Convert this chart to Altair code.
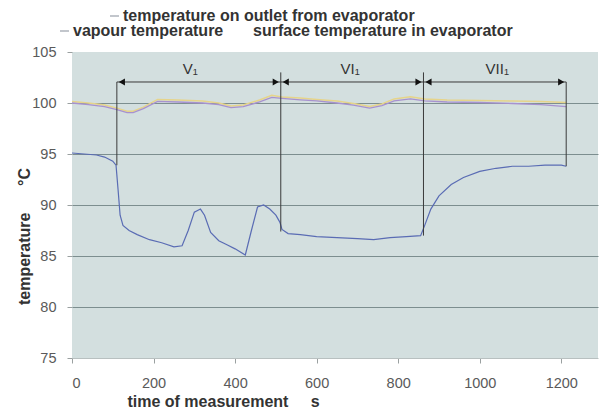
import altair as alt
import pandas as pd

# ---- data ----
outlet_t = [0, 30, 60, 80, 100, 108, 113, 118, 125, 140, 160, 190, 220, 250, 270, 285, 300, 315,
            325, 340, 360, 380, 400, 425, 440, 455, 470, 485, 500, 510, 515, 530, 560, 600, 650,
            700, 740, 780, 820, 855, 865, 880, 900, 930, 960, 1000, 1040, 1080, 1120, 1160, 1200, 1212]
outlet_v = [95.1, 95.0, 94.9, 94.7, 94.3, 93.9, 91.5, 89.0, 88.0, 87.5, 87.1, 86.6, 86.3, 85.9, 86.0,
            87.5, 89.3, 89.6, 89.0, 87.3, 86.5, 86.1, 85.7, 85.1, 87.5, 89.8, 90.0, 89.6, 89.0, 88.3,
            87.6, 87.2, 87.1, 86.9, 86.8, 86.7, 86.6, 86.8, 86.9, 87.0, 88.0, 89.6, 90.9, 92.0, 92.7,
            93.3, 93.6, 93.8, 93.8, 93.9, 93.9, 93.8]

upper_t = [0, 40, 80, 110, 135, 150, 175, 210, 260, 320, 360, 390, 420, 460, 490, 515, 560, 600,
           650, 690, 730, 760, 790, 830, 865, 920, 1000, 1080, 1150, 1212]
vapour_v = [100.15, 100.0, 99.8, 99.5, 99.2, 99.2, 99.6, 100.35, 100.3, 100.2, 100.0, 99.7, 99.8,
            100.3, 100.75, 100.6, 100.5, 100.35, 100.2, 99.95, 99.65, 99.9, 100.4, 100.6, 100.4,
            100.3, 100.25, 100.2, 100.15, 100.05]
surface_v = [100.0, 99.85, 99.65, 99.35, 99.05, 99.05, 99.45, 100.15, 100.1, 100.0, 99.85, 99.55,
             99.65, 100.1, 100.55, 100.45, 100.3, 100.2, 100.0, 99.8, 99.5, 99.75, 100.2, 100.4,
             100.2, 100.1, 100.05, 99.95, 99.85, 99.65]

boundary_t = [110, 512, 862, 1212]
boundary_top = [102.06, 103.0, 103.0, 102.06]
boundary_bottom = [93.9, 87.4, 87.0, 93.8]

section_labels = ["V₁", "VI₁", "VII₁"]
section_mid = [290, 682, 1043]
section_start = [110, 512, 862]
section_end = [512, 862, 1212]
arrow_level = 102.06
label_level = 103.3

x_ticks = [0, 200, 400, 600, 800, 1000, 1200]
y_ticks = [75, 80, 85, 90, 95, 100, 105]
x_domain = [0, 1290]
y_domain = [75, 105]

NB = "\u00a0"
legend_outlet = "temperature on outlet from evaporator"
legend_vapour = "vapour temperature"
legend_surface = "surface temperature in evaporator"
x_title = "time of measurement" + NB * 5 + "s"
y_title = "temperature" + NB * 6 + "°C"

# ---- tables ----
outlet_df = pd.DataFrame({"t": outlet_t, "v": outlet_v})
vapour_df = pd.DataFrame({"t": upper_t, "v": vapour_v})
surface_df = pd.DataFrame({"t": upper_t, "v": surface_v})
bound_df = pd.DataFrame({"t": boundary_t, "v": boundary_top, "v2": boundary_bottom})
sect_df = pd.DataFrame({"label": section_labels, "t": section_mid, "t0": section_start,
                        "t1": section_end, "lv": [label_level] * 3, "av": [arrow_level] * 3})
one = pd.DataFrame({"a": [0]})

xs = alt.Scale(domain=x_domain, nice=False, zero=False)
ys = alt.Scale(domain=y_domain, nice=False, zero=False)

xaxis = alt.Axis(values=x_ticks, format="d", grid=False, tickSize=5, tickColor="#9aa0a0",
                 domainColor="#b8c0c0", labelColor="#5a5a5a", labelFontSize=14.5,
                 labelPadding=13, title=x_title, titleFontSize=16, titleFontWeight="bold",
                 titleColor="#333333", titleX=151, titleY=43, titleBaseline="middle",
                 titleAlign="center")
yaxis = alt.Axis(values=y_ticks, format="d", grid=True,
                 gridColor={"condition": {"test": "datum.value <= 75 || datum.value >= 105",
                                          "value": "transparent"}, "value": "#7c8e8f"},
                 gridWidth=1, domain=False, tickSize=5, tickColor="#9aa0a0",
                 labelColor="#5a5a5a", labelFontSize=14.5, labelPadding=11,
                 title=y_title, titleFontSize=16, titleFontWeight="bold", titleColor="#333333",
                 titleX=-48, titleY=184, titleAngle=270, titleBaseline="middle",
                 titleAlign="center")


def X(f):
    return alt.X(f, type="quantitative", scale=xs, axis=xaxis)


def Y(f):
    return alt.Y(f, type="quantitative", scale=ys, axis=yaxis)


blue = "#5a6cb4"
yellow = "#e6d48a"
purple = "#a792cf"

surface_line = alt.Chart(surface_df).mark_line(color=purple, strokeWidth=1.3).encode(x=X("t"), y=Y("v"))
vapour_line = alt.Chart(vapour_df).mark_line(color=yellow, strokeWidth=1.5).encode(x=X("t"), y=Y("v"))
outlet_line = alt.Chart(outlet_df).mark_line(color=blue, strokeWidth=1.2).encode(x=X("t"), y=Y("v"))

bounds = alt.Chart(bound_df).mark_rule(color="#3a3a3a", strokeWidth=1).encode(
    x=X("t"), y=Y("v"), y2="v2")
arrow = alt.Chart(sect_df).mark_rule(color="#3a3a3a", strokeWidth=1).encode(
    x=X("t0"), x2="t1", y=Y("av"))
head_l = alt.Chart(sect_df).mark_point(shape="triangle-left", filled=True, color="#111111",
                                       size=50, opacity=1, xOffset=5).encode(x=X("t0"), y=Y("av"))
head_r = alt.Chart(sect_df).mark_point(shape="triangle-right", filled=True, color="#111111",
                                       size=50, opacity=1, xOffset=-5).encode(x=X("t1"), y=Y("av"))
labels = alt.Chart(sect_df).mark_text(fontSize=15, color="#333333", baseline="middle").encode(
    x=X("t"), y=Y("lv"), text="label")


def legend_entry(text, tx, ty, color, dash):
    txt = alt.Chart(one).mark_text(align="left", baseline="middle", fontSize=16,
                                   fontWeight="bold", color="#333333").encode(
        x=alt.value(tx), y=alt.value(ty), text=alt.value(text))
    layers = [txt]
    if dash:
        layers.append(alt.Chart(one).mark_rule(color=color, strokeWidth=1.2).encode(
            x=alt.value(tx - 13), x2=alt.value(tx - 4), y=alt.value(ty)))
    return layers


leg = []
leg += legend_entry(legend_outlet, 51, -36, "#9aa0aa", True)
leg += legend_entry(legend_vapour, 1, -21, "#9aa0aa", True)
leg += legend_entry(legend_surface, 181, -21, "#dddddd", False)

chart = alt.layer(outlet_line, vapour_line, surface_line, bounds, arrow, head_l, head_r,
                  labels, *leg).properties(
    width=526, height=306,
    autosize=alt.AutoSizeParams(type="none"),
    padding={"left": 64, "top": 44, "right": 3, "bottom": 50},
).configure(font="Liberation Sans").configure_view(fill="#d3dfdf", stroke=None)

chart.save("out.html", embed_options={"renderer": "svg", "actions": False})
